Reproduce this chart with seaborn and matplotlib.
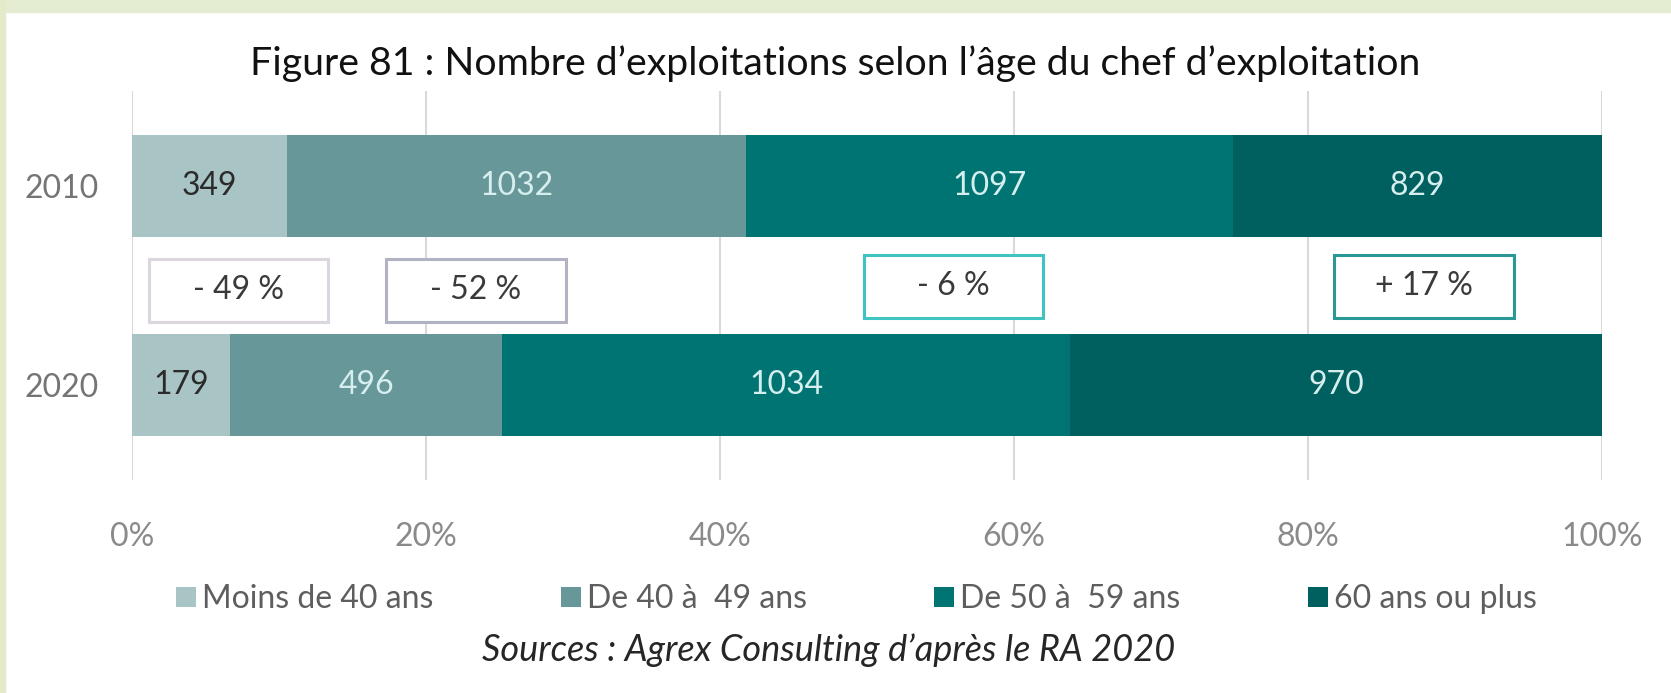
import numpy as np
import pandas as pd
import matplotlib.pyplot as plt
import seaborn as sns
from matplotlib.patches import Rectangle
from matplotlib.lines import Line2D

# données (RA 2010 / RA 2020)
annees = ["2010", "2020"]
classes = ["Moins de 40 ans", "De 40 à  49 ans", "De 50 à  59 ans", "60 ans ou plus"]
n_2010 = [349, 1032, 1097, 829]
n_2020 = [179, 496, 1034, 970]

couleurs = ["#a9c4c5", "#679799", "#007473", "#005f5f"]
couleurs_txt = ["#2b2b2b", "#d6eeee", "#d6eeee", "#d6eeee"]
bords_evol = ["#dcd6df", "#b1b3c5", "#3fc3c3", "#2a9896"]
x_evol = [7.25, 23.4, 55.9, 87.9]   # position des encadrés (%)
y_evol = [0.525, 0.525, 0.505, 0.505]

tab = pd.DataFrame([n_2010, n_2020], index=annees, columns=classes)
pct = tab.div(tab.sum(axis=1), axis=0) * 100
cum = pct.cumsum(axis=1)

sns.set_theme(style="white")
plt.rcParams["font.family"] = ["Lato", "DejaVu Sans"]

fig = plt.figure(figsize=(16.71, 6.93), dpi=100)
# bordure verte du document
fig.patches.append(Rectangle((0, 1 - 12 / 693), 1, 12 / 693, transform=fig.transFigure,
                             color="#e4ecd2", zorder=0))
fig.patches.append(Rectangle((0, 0), 5 / 1671, 1, transform=fig.transFigure,
                             color="#e2eac9", zorder=0))

ax = fig.add_axes([132 / 1671, 1 - 480 / 693, 1470 / 1671, 389 / 693])

# barres empilées : on superpose les cumuls du plus grand au plus petit
for k in range(len(classes) - 1, -1, -1):
    d = pd.DataFrame({"annee": annees, "cum": cum.iloc[:, k].values})
    sns.barplot(data=d, x="cum", y="annee", color=couleurs[k], saturation=1,
                width=0.515, orient="h", errorbar=None, ax=ax, zorder=2, linewidth=0)

# étiquettes de valeurs
for i, an in enumerate(annees):
    for k, cl in enumerate(classes):
        centre = cum.loc[an, cl] - pct.loc[an, cl] / 2
        ax.text(centre, i, f"{tab.loc[an, cl]}", ha="center", va="center",
                fontsize=23, color=couleurs_txt[k], zorder=4)

# encadrés d'évolution 2010-2020
evol = (tab.loc["2020"] / tab.loc["2010"] - 1) * 100
for k, cl in enumerate(classes):
    v = int(round(evol[cl]))
    lab = f"+ {v} %" if v > 0 else f"- {abs(v)} %"
    ax.add_patch(Rectangle((x_evol[k] - 6.1, y_evol[k] - 0.16), 12.2, 0.32,
                           facecolor="white", edgecolor=bords_evol[k], linewidth=2.2,
                           zorder=3))
    ax.text(x_evol[k], y_evol[k], lab, ha="center", va="center", fontsize=23,
            color="#3a3a3a", zorder=4)

ax.set_xlim(0, 100)
ax.set_ylim(1.48, -0.48)
ax.set_xticks(range(0, 101, 20))
ax.set_xticklabels([f"{v}%" for v in range(0, 101, 20)])
ax.xaxis.grid(True, color="#d9d9d9", linewidth=1.5, zorder=0)
ax.set_axisbelow(True)
for s in ax.spines.values():
    s.set_visible(False)
ax.tick_params(axis="x", length=0, pad=30, labelsize=23, labelcolor="#8a8a8a")
ax.tick_params(axis="y", length=0, pad=24, labelsize=23, labelcolor="#757575")
ax.set_xlabel("")
ax.set_ylabel("")

fig.text(0.5, 1 - 64 / 693, "Figure 81 : Nombre d’exploitations selon l’âge du chef d’exploitation",
         ha="center", va="center", fontsize=28.3, color="#111111")

poignees = [Line2D([0], [0], marker="s", linestyle="", markersize=14,
                   markerfacecolor=c, markeredgewidth=0) for c in couleurs]
leg = fig.legend(poignees, classes, loc="center", bbox_to_anchor=(855 / 1671, 1 - 599 / 693),
                 ncol=4, frameon=False, fontsize=23, handletextpad=0.1,
                 columnspacing=3.9, handlelength=0.8)
for t in leg.get_texts():
    t.set_color("#5e5e5e")

fig.text(829 / 1671, 1 - 650 / 693, "Sources : Agrex Consulting d’après le RA 2020",
         ha="center", va="center", fontsize=26, style="italic", color="#262626")

fig.savefig("out.png", dpi=100, facecolor="white")
